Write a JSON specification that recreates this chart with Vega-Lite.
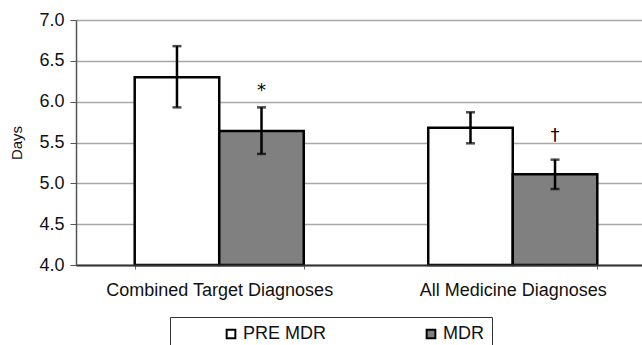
{
  "$schema": "https://vega.github.io/schema/vega-lite/v6.json",
  "autosize": "none",
  "width": 580,
  "height": 245,
  "padding": {"left": 76, "top": 20, "right": 0, "bottom": 80},
  "background": "white",
  "config": {
    "font": "Liberation Sans",
    "view": {"stroke": null}
  },
  "data": {
    "values": [
      {"diag": "Combined Target Diagnoses", "period": "PRE MDR", "days": 6.30, "lo": 5.93, "hi": 6.68, "sig": "", "sig_y": 6.07},
      {"diag": "Combined Target Diagnoses", "period": "MDR", "days": 5.64, "lo": 5.36, "hi": 5.93, "sig": "*", "sig_y": 6.07},
      {"diag": "All Medicine Diagnoses", "period": "PRE MDR", "days": 5.68, "lo": 5.49, "hi": 5.87, "sig": "", "sig_y": 5.52},
      {"diag": "All Medicine Diagnoses", "period": "MDR", "days": 5.11, "lo": 4.93, "hi": 5.29, "sig": "†", "sig_y": 5.52}
    ]
  },
  "encoding": {
    "x": {
      "field": "diag", "type": "nominal", "sort": null,
      "scale": {"paddingInner": 0.424, "paddingOuter": 0.2},
      "axis": {
        "title": null, "labelAngle": 0, "labelFontSize": 18, "labelColor": "#111", "labelLimit": 400,
        "labelPadding": 12, "domainColor": "#333", "domainWidth": 2,
        "tickBand": "extent", "tickColor": "#666", "tickSize": 4, "grid": false, "zindex": 1
      }
    },
    "xOffset": {"field": "period", "type": "nominal", "sort": ["PRE MDR", "MDR"], "scale": {"paddingInner": 0, "paddingOuter": 0}}
  },
  "layer": [
    {
      "mark": {"type": "bar", "stroke": "black", "strokeWidth": 2.5},
      "encoding": {
        "y": {
          "field": "days", "type": "quantitative",
          "scale": {"domain": [4, 7], "zero": false, "nice": false},
          "axis": {
            "title": "Days", "titleFontSize": 15, "titleFontWeight": "normal", "titleColor": "#111",
            "titleX": -60, "titleBaseline": "middle",
            "values": [4, 4.5, 5, 5.5, 6, 6.5, 7], "format": ".1f",
            "labelFontSize": 18, "labelColor": "#111", "labelPadding": 6,
            "tickSize": 6, "tickColor": "#555", "domainColor": "#555", "domainWidth": 1.5,
            "grid": true, "gridColor": "#a8a8a8", "gridWidth": 1.5
          }
        },
        "y2": {"datum": 4},
        "fill": {
          "field": "period", "type": "nominal",
          "scale": {"domain": ["PRE MDR", "MDR"], "range": ["#ffffff", "#808080"]},
          "legend": {
            "title": null, "orient": "none", "legendX": 94, "legendY": 297,
            "direction": "horizontal", "columns": 2, "gridAlign": "all",
            "symbolType": "square", "symbolSize": 75, "symbolStrokeColor": "black", "symbolStrokeWidth": 2,
            "symbolOffset": 44, "columnPadding": 51,
            "labelFontSize": 18, "labelColor": "#111", "labelOffset": 3,
            "padding": 8, "strokeColor": "#333", "fillColor": "white"
          }
        }
      }
    },
    {
      "mark": {"type": "rule", "strokeWidth": 2.5, "color": "black"},
      "encoding": {"y": {"field": "lo", "type": "quantitative"}, "y2": {"field": "hi"}}
    },
    {
      "mark": {"type": "tick", "thickness": 2.5, "size": 9, "color": "black", "orient": "horizontal"},
      "encoding": {"y": {"field": "lo", "type": "quantitative"}}
    },
    {
      "mark": {"type": "tick", "thickness": 2.5, "size": 9, "color": "black", "orient": "horizontal"},
      "encoding": {"y": {"field": "hi", "type": "quantitative"}}
    },
    {
      "mark": {"type": "text", "fontSize": 18, "font": "DejaVu Sans", "baseline": "alphabetic", "fill": "black"},
      "encoding": {"y": {"field": "sig_y", "type": "quantitative"}, "text": {"field": "sig"}}
    }
  ]
}
